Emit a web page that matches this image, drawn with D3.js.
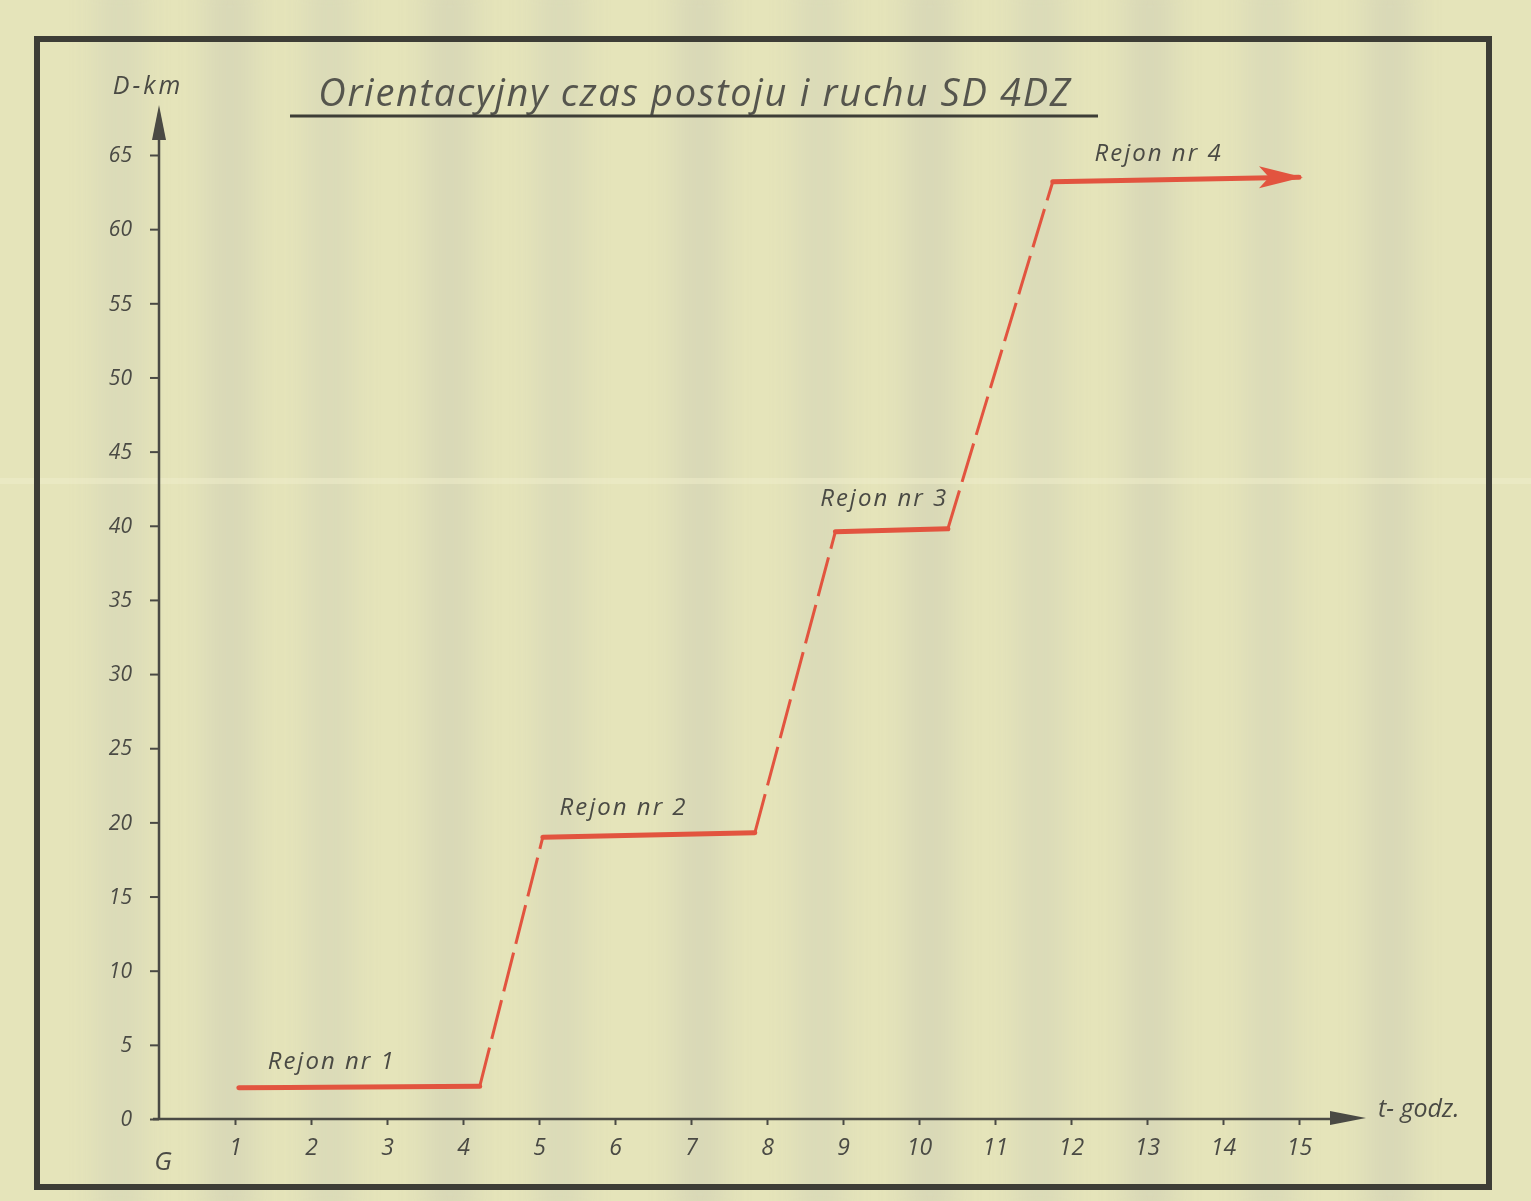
<!DOCTYPE html>
<html><head><meta charset="utf-8">
<script src="https://cdn.jsdelivr.net/npm/d3@7"></script>
<style>html,body{margin:0;padding:0;background:#e4e3b8;}svg{display:block;}</style>
</head><body>
<script>
// ---- data ----
const xTicks = [1,2,3,4,5,6,7,8,9,10,11,12,13,14,15];
const yTicks = [0,5,10,15,20,25,30,35,40,45,50,55,60,65];
const yTickLabels = ["0","5","10","15","20","25","30","35","40","45","50","55","60","65"];
// route: stop (flat, solid) and move (rising, dashed) segments
const stopSegments = [
  {name:"Rejon nr 1", t0:1.05, d0:2.1, t1:4.22, d1:2.2},
  {name:"Rejon nr 2", t0:5.05, d0:19.0, t1:7.84, d1:19.3},
  {name:"Rejon nr 3", t0:8.9, d0:39.6, t1:10.38, d1:39.8},
  {name:"Rejon nr 4", t0:11.76, d0:63.2, t1:15.0, d1:63.5}
];
const moveSegments = [
  {t0:4.22, d0:2.2, t1:5.05, d1:19.0},
  {t0:7.84, d0:19.3, t1:8.9, d1:39.6},
  {t0:10.38, d0:39.8, t1:11.76, d1:63.2}
];
const labelPos = [ // label anchor in data units
  {t:1.43, d:3.4},{t:5.27, d:20.5},{t:8.7, d:41.3},{t:12.31, d:64.6}
];

const W=1531,H=1201;
const svg=d3.select("body").append("svg").attr("width",W).attr("height",H);
const defs=svg.append("defs");
defs.append("filter").attr("id","blur").attr("x","-50%").attr("width","200%")
  .append("feGaussianBlur").attr("stdDeviation",12);

// paper background with faint vertical bands
svg.append("rect").attr("width",W).attr("height",H).attr("fill","#e5e4ba");
const bands=[120,230,330,450,560,700,820,930,1040,1150,1270,1390];
const bg=svg.append("g").attr("filter","url(#blur)");
bands.forEach((b,i)=>{
  bg.append("rect").attr("x",b-24).attr("y",-20).attr("width",48).attr("height",H+40)
    .attr("fill", "#c9cab4").attr("opacity",i%2?0.45:0.35);
});
svg.append("rect").attr("x",0).attr("y",478).attr("width",W).attr("height",6).attr("fill","#efeecb").attr("opacity",0.5);

// border
svg.append("rect").attr("x",37).attr("y",39).attr("width",1452).attr("height",1148)
  .attr("fill","none").attr("stroke","#3d3d36").attr("stroke-width",6);

const x=d3.scaleLinear().domain([0,15]).range([159,1299]);
const y=d3.scaleLinear().domain([0,65]).range([1119,155]);
const ink="#4a4a44";
const font="'Open Sans', 'DejaVu Sans', sans-serif";

// axes
const gx=svg.append("g").attr("transform",`translate(0,${y(0)})`)
  .call(d3.axisBottom(x).tickValues(xTicks).tickSize(6).tickFormat(d=>d).tickPadding(14));
const gy=svg.append("g").attr("transform",`translate(${x(0)},0)`)
  .call(d3.axisLeft(y).tickValues(yTicks).tickSize(9).tickFormat((d,i)=>yTickLabels[i]).tickPadding(18));
[gx,gy].forEach(g=>{
  g.select(".domain").remove();
  g.selectAll(".tick line").attr("stroke",ink).attr("stroke-width",2);
  g.selectAll(".tick text").attr("fill",ink).attr("font-family",font)
    .attr("font-style","italic").attr("font-size",21);
});
gx.selectAll(".tick text").attr("font-size",23);
// axis lines with arrows
svg.append("line").attr("x1",x(0)).attr("x2",x(0)).attr("y1",y(0)).attr("y2",115)
  .attr("stroke",ink).attr("stroke-width",2.5);
svg.append("path").attr("d",`M${x(0)},105 L${x(0)-7},140 L${x(0)+7},140 Z`).attr("fill",ink);
svg.append("line").attr("x1",x(0)-6).attr("x2",1345).attr("y1",y(0)).attr("y2",y(0))
  .attr("stroke",ink).attr("stroke-width",2.5);
svg.append("path").attr("d",`M1366,${y(0)-1} L1330,${y(0)-8} L1330,${y(0)+6} Z`).attr("fill",ink);

svg.append("text").attr("x",x(0)+4).attr("y",1170).attr("text-anchor","middle")
  .attr("font-family",font).attr("font-style","italic").attr("font-size",26).attr("fill",ink).text("G");
svg.append("text").attr("x",148).attr("y",94).attr("text-anchor","middle")
  .attr("font-family",font).attr("font-style","italic").attr("font-size",25).attr("letter-spacing",3)
  .attr("fill",ink).text("D-km");
svg.append("text").attr("x",1378).attr("y",1117)
  .attr("font-family",font).attr("font-style","italic").attr("font-size",25).attr("fill",ink).text("t- godz.");

// title
svg.append("text").attr("x",695).attr("y",106).attr("text-anchor","middle")
  .attr("font-family",font).attr("font-style","italic").attr("font-size",38).attr("fill","#55554d")
  .attr("letter-spacing",1.7).text("Orientacyjny czas postoju i ruchu SD 4DZ");
svg.append("line").attr("x1",290).attr("x2",1098).attr("y1",116).attr("y2",116)
  .attr("stroke","#3d3d36").attr("stroke-width",3);

// red route
const red="#e2543f";
svg.selectAll("line.stop").data(stopSegments).join("line").attr("class","stop")
  .attr("x1",d=>x(d.t0)).attr("y1",d=>y(d.d0)).attr("x2",d=>x(d.t1)).attr("y2",d=>y(d.d1))
  .attr("stroke",red).attr("stroke-width",5).attr("stroke-linecap","round");
svg.selectAll("line.move").data(moveSegments).join("line").attr("class","move")
  .attr("x1",d=>x(d.t0)).attr("y1",d=>y(d.d0)).attr("x2",d=>x(d.t1)).attr("y2",d=>y(d.d1))
  .attr("stroke",red).attr("stroke-width",3).attr("stroke-dasharray","40,9");
// arrow head at end of last stop
const last=stopSegments[stopSegments.length-1];
const ax=x(last.t1), ay=y(last.d1);
svg.append("path").attr("d",`M${ax+4},${ay} L${ax-40},${ay-11} L${ax-30},${ay} L${ax-40},${ay+11} Z`).attr("fill",red);

// labels
svg.selectAll("text.rej").data(stopSegments).join("text").attr("class","rej")
  .attr("x",(d,i)=>x(labelPos[i].t)).attr("y",(d,i)=>y(labelPos[i].d))
  .attr("font-family",font).attr("font-style","italic").attr("font-size",24).attr("letter-spacing",2)
  .attr("fill","#4a4a44").text(d=>d.name);
</script>
</body></html>
